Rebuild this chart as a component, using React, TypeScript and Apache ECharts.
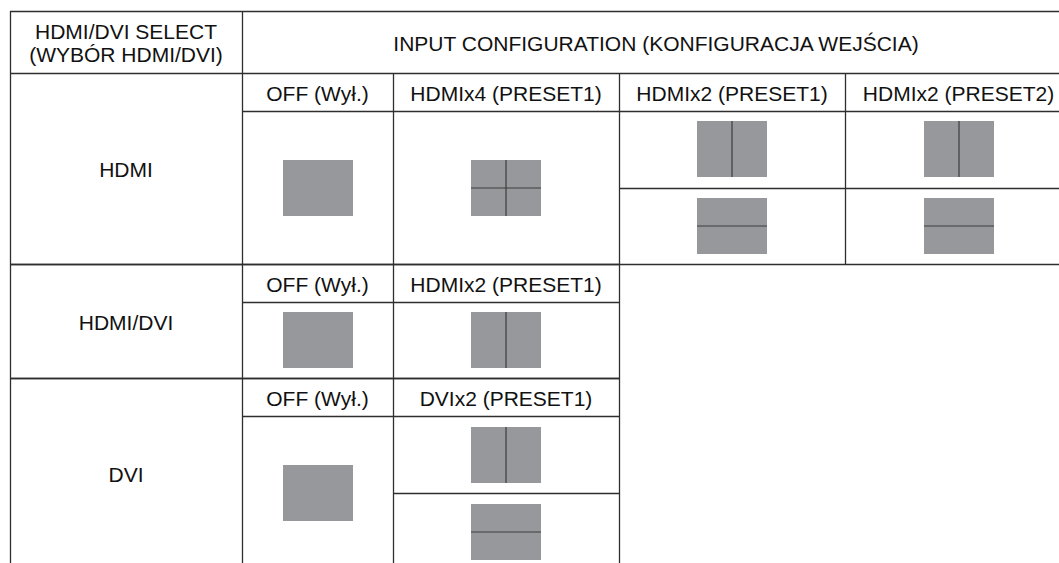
import React, { useEffect, useRef } from "react";
import * as echarts from "echarts";

// ---- content ----
const titleSelect = ["HDMI/DVI SELECT", "(WYBÓR HDMI/DVI)"];
const titleConfig = "INPUT CONFIGURATION (KONFIGURACJA WEJŚCIA)";
const selectLabels = ["HDMI", "HDMI/DVI", "DVI"];
const configHeaders = [
  ["OFF (Wył.)", "HDMIx4 (PRESET1)", "HDMIx2 (PRESET1)", "HDMIx2 (PRESET2)"],
  ["OFF (Wył.)", "HDMIx2 (PRESET1)"],
  ["OFF (Wył.)", "DVIx2 (PRESET1)"],
];
// screen layouts per row / column: single, quad, vsplit (left|right), hsplit (top/bottom)
const configLayouts = [
  [["single"], ["quad"], ["vsplit", "hsplit"], ["vsplit", "hsplit"]],
  [["single"], ["vsplit"]],
  [["single"], ["vsplit", "hsplit"]],
];

// ---- layout constants ----
const W = 1059;
const H = 563;
const colX = [10, 242, 393, 619, 845, 1072];
const tableTop = 11;
const headerBottom = 73;
const rowTop = [73, 264, 378];
const rowBottom = [264, 378, 570];
const subHeaderH = 38;
const boxW = 70;
const boxH = 56;
const lineColor = "#2e2e2e";
const boxColor = "#97989b";
const splitColor = "#3c3c3c";
const textColor = "#111";
const fontFamily = "'Liberation Sans', Arial, Helvetica, sans-serif";
const fontSize = 21;

function buildGraphics() {
  const g: any[] = [];
  const hLine = (y: number, x1: number, x2: number) =>
    g.push({
      type: "line",
      shape: { x1, y1: y + 0.5, x2, y2: y + 0.5 },
      style: { stroke: lineColor, lineWidth: 1.3 },
    });
  const vLine = (x: number, y1: number, y2: number) =>
    g.push({
      type: "line",
      shape: { x1: x + 0.5, y1, x2: x + 0.5, y2 },
      style: { stroke: lineColor, lineWidth: 1.3 },
    });
  const text = (s: string, x: number, y: number) =>
    g.push({
      type: "text",
      x,
      y,
      style: {
        text: s,
        fill: textColor,
        fontSize,
        fontFamily,
        textAlign: "center",
        textVerticalAlign: "middle",
      },
    });
  const box = (cx: number, cy: number, kind: string) => {
    const x = Math.round(cx - boxW / 2);
    const y = Math.round(cy - boxH / 2);
    g.push({
      type: "rect",
      shape: { x, y, width: boxW, height: boxH },
      style: { fill: boxColor },
    });
    if (kind === "quad" || kind === "vsplit") {
      g.push({
        type: "line",
        shape: { x1: x + boxW / 2, y1: y, x2: x + boxW / 2, y2: y + boxH },
        style: { stroke: splitColor, lineWidth: 1.2 },
      });
    }
    if (kind === "quad" || kind === "hsplit") {
      g.push({
        type: "line",
        shape: { x1: x, y1: y + boxH / 2, x2: x + boxW, y2: y + boxH / 2 },
        style: { stroke: splitColor, lineWidth: 1.2 },
      });
    }
  };

  // outer header
  hLine(tableTop, colX[0], W);
  hLine(headerBottom, colX[0], W);
  vLine(colX[0], tableTop, H);
  vLine(colX[1], tableTop, H);
  text(titleSelect[0], (colX[0] + colX[1]) / 2, 31);
  text(titleSelect[1], (colX[0] + colX[1]) / 2, 54);
  text(titleConfig, 656, 43);

  // rows
  selectLabels.forEach((label, r) => {
    const top = rowTop[r];
    const bottom = rowBottom[r];
    const headers = configHeaders[r];
    const nCols = headers.length;
    const rightX = nCols === 4 ? W : colX[1 + nCols];
    if (r > 0) hLine(top, colX[0], colX[1 + nCols] + (r === 1 ? 0 : 0));
    hLine(top + subHeaderH, colX[1], rightX);
    if (bottom < H) hLine(bottom, colX[0], rightX);
    text(label, (colX[0] + colX[1]) / 2, (top + Math.min(bottom, H)) / 2 + (r === 2 ? 4 : 1));
    const cellTop = top + subHeaderH;
    headers.forEach((h, c) => {
      const x1 = colX[1 + c];
      const x2 = colX[2 + c];
      const cx = (x1 + x2) / 2;
      if (c > 0) vLine(x1, top, Math.min(bottom, H));
      if (c === nCols - 1 && x2 < W) vLine(x2, top, Math.min(bottom, H));
      text(h, cx, top + subHeaderH / 2 + 1);
      const layouts = configLayouts[r][c];
      const n = layouts.length;
      const hh = (bottom - cellTop) / n;
      layouts.forEach((kind, k) => {
        const cy = cellTop + hh * (k + 0.5);
        if (k > 0) hLine(Math.round(cellTop + hh * k), x1, x2);
        box(cx, cy, kind);
      });
    });
  });
  return g;
}

export default function App() {
  const ref = useRef<HTMLDivElement>(null);
  useEffect(() => {
    if (!ref.current) return;
    const chart = echarts.init(ref.current, undefined, { renderer: "svg" });
    chart.setOption({
      animation: false,
      backgroundColor: "#ffffff",
      graphic: { elements: buildGraphics() },
    });
    return () => chart.dispose();
  }, []);
  return (
    <div
      ref={ref}
      style={{ position: "fixed", left: 0, top: 0, width: W, height: H, background: "#fff" }}
    />
  );
}
